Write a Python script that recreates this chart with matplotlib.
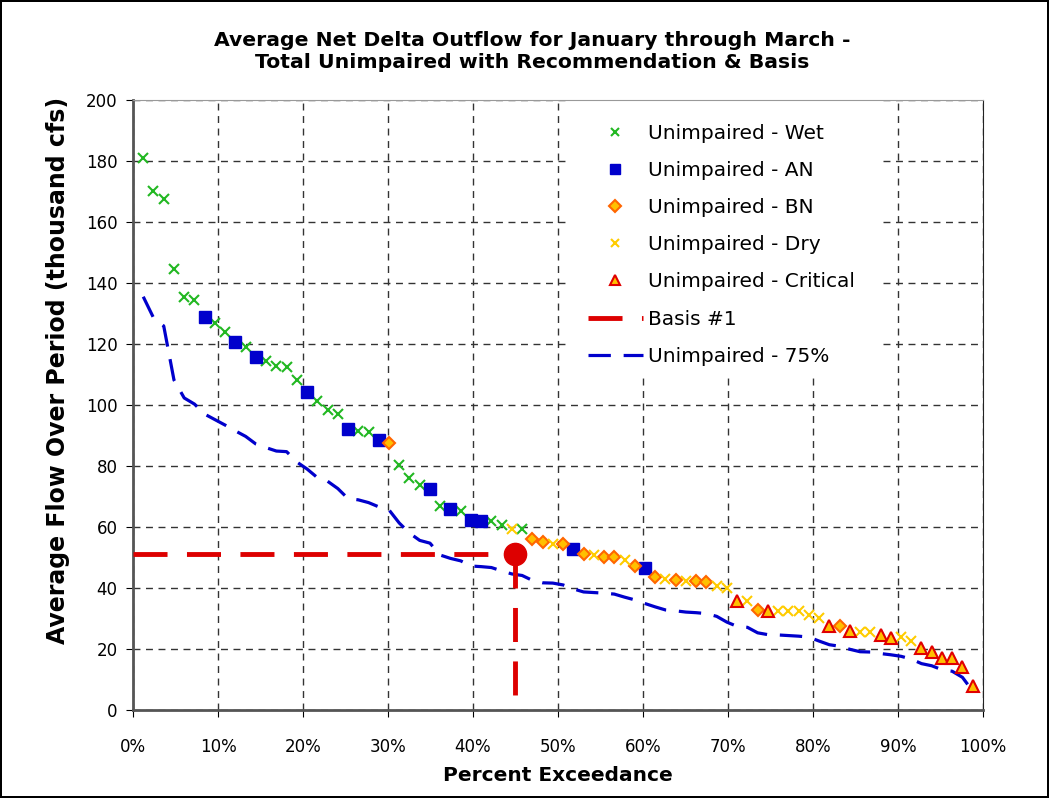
import numpy as np
import matplotlib.pyplot as plt
from matplotlib.patches import Rectangle

# year type of each ranked year (highest flow first)
year_type = ['W', 'W', 'W', 'W', 'W', 'W', 'AN', 'W', 'W', 'AN',
             'W', 'AN', 'W', 'W', 'W', 'W', 'AN', 'W', 'W', 'W',
             'AN', 'W', 'W', 'AN', 'BN', 'W', 'W', 'W', 'AN', 'W',
             'AN', 'W', 'AN', 'AN', 'W', 'W', 'D', 'W', 'BN', 'BN',
             'D', 'BN', 'AN', 'BN', 'D', 'BN', 'BN', 'D', 'BN', 'AN',
             'BN', 'D', 'BN', 'D', 'BN', 'BN', 'D', 'D', 'C', 'D',
             'BN', 'C', 'D', 'D', 'D', 'D', 'D', 'C', 'BN', 'C',
             'D', 'D', 'C', 'C', 'D', 'D', 'C', 'C', 'C', 'C',
             'C', 'C']

# unimpaired flow, thousand cfs
flow = [180.9, 170.2, 167.4, 144.6, 135.5, 134.4, 128.8, 126.8, 124.0, 120.8,
        118.9, 115.6, 114.5, 112.9, 112.5, 108.2, 104.2, 101.4, 98.4, 97.0,
        92.1, 91.5, 91.0, 88.5, 87.4, 80.2, 76.0, 73.7, 72.6, 66.9,
        66.0, 65.2, 62.3, 62.0, 61.8, 60.6, 59.4, 59.2, 56.1, 55.1,
        54.5, 54.5, 52.8, 51.0, 50.8, 50.2, 50.1, 49.1, 47.2, 46.6,
        43.7, 43.1, 42.6, 42.4, 42.3, 42.1, 40.8, 39.9, 35.8, 35.6,
        32.8, 32.6, 32.6, 32.6, 32.6, 31.2, 30.2, 27.6, 27.6, 26.0,
        25.5, 25.5, 24.6, 23.6, 23.8, 22.5, 20.3, 19.1, 17.2, 16.9,
        14.2, 7.9]

# 75% of unimpaired
flow75 = [135.5, 128.6, 125.9, 108.2, 102.3, 100.3, 97.0, 95.2, 93.4, 91.5,
          89.7, 87.2, 86.0, 84.9, 84.7, 81.3, 79.0, 76.2, 75.0, 72.6,
          69.3, 68.9, 68.0, 66.6, 65.6, 61.3, 58.0, 55.6, 54.7, 50.8,
          49.7, 48.9, 47.2, 47.0, 46.7, 45.6, 44.6, 44.1, 42.5, 41.7,
          41.6, 41.0, 39.7, 38.7, 38.5, 38.3, 38.0, 37.0, 36.1, 34.9,
          33.8, 32.8, 32.5, 32.1, 31.9, 31.6, 30.7, 28.8, 27.4, 27.1,
          25.3, 24.7, 24.6, 24.4, 24.2, 23.9, 22.6, 21.4, 20.9, 19.9,
          19.1, 19.0, 18.5, 18.1, 17.6, 16.7, 15.2, 14.5, 13.2, 12.7,
          10.7, 6.2]

basis_x = [0, 45]
basis_y = [51, 51]
basis_vx = [45, 45]
basis_vy = [51, 4]

n = len(flow)
exceed = np.arange(1, n + 1) / (n + 1) * 100
flow = np.array(flow)
year_type = np.array(year_type)

fig = plt.figure(figsize=(10.49, 7.98), dpi=100)
fig.patch.set_edgecolor('black')
fig.patch.set_linewidth(1.5)
ax = fig.add_axes([0.1268, 0.1103, 0.8102, 0.7644])

styles = {
    'W':  dict(marker='x', color='#22B822', ms=7, mew=1.5, ls='none', label='Unimpaired - Wet'),
    'AN': dict(marker='s', color='#0000CC', mec='#0000CC', ms=8, ls='none', label='Unimpaired - AN'),
    'BN': dict(marker='D', color='#FFC000', mec='#FF6600', mew=1.5, ms=6.5, ls='none', label='Unimpaired - BN'),
    'D':  dict(marker='x', color='#FFCC00', ms=7, mew=1.5, ls='none', label='Unimpaired - Dry'),
    'C':  dict(marker='^', color='#FFC000', mec='#E00000', mew=1.5, ms=8, ls='none', label='Unimpaired - Critical'),
}
for t in ['W', 'AN', 'BN', 'D', 'C']:
    m = year_type == t
    ax.plot(exceed[m], flow[m], zorder=4, **styles[t])

ax.plot(basis_x, basis_y, color='#DD0000', lw=3.5, dashes=(7, 4), label='Basis #1', zorder=5)
ax.plot(basis_vx, basis_vy, color='#DD0000', lw=3.5, dashes=(7, 4), zorder=5)
ax.plot([45], [51], 'o', color='#DD0000', ms=16, zorder=6)
ax.plot(exceed, flow75, color='#0000CC', lw=2.3, dashes=(7, 4), label='Unimpaired - 75%', zorder=3)

ax.set_xlim(0, 100)
ax.set_ylim(0, 200)
ax.set_xticks(np.arange(0, 101, 10))
ax.set_xticklabels([f'{v}%' for v in range(0, 101, 10)])
ax.set_yticks(np.arange(0, 201, 20))
ax.tick_params(axis='x', labelsize=12, pad=15, direction='out', length=5)
ax.tick_params(axis='y', labelsize=12, pad=6, direction='out', length=5)
ax.grid(True, color='#333333', lw=1, dashes=(5, 4))
ax.set_axisbelow(True)
for s in ['left', 'bottom']:
    ax.spines[s].set_color('#555555')
    ax.spines[s].set_linewidth(2)
ax.spines['right'].set_color('#222222')
ax.spines['top'].set_color('#999999')

# white box behind the legend hides the grid there
ax.add_patch(Rectangle((0.5118, 0.549), 0.3647, 0.451, transform=ax.transAxes,
                       facecolor='white', edgecolor='none', zorder=2))

leg = ax.legend(loc='upper left', bbox_to_anchor=(0.5353, 0.9607), fontsize=14.5,
                frameon=False, handlelength=2.73, labelspacing=0.9,
                borderpad=0, borderaxespad=0, handletextpad=0.25,
                markerscale=0.9)
leg.set_zorder(10)

fig.text(0.507, 1 - 40 / 798, 'Average Net Delta Outflow for January through March -',
         ha='center', va='center', fontsize=14.7, fontweight='bold')
fig.text(0.507, 1 - 62 / 798, 'Total Unimpaired with Recommendation & Basis',
         ha='center', va='center', fontsize=14.7, fontweight='bold')
fig.text(0.055, 0.536, 'Average Flow Over Period (thousand cfs)', rotation=90,
         ha='center', va='center', fontsize=17, fontweight='bold')
fig.text(0.532, 0.0276, 'Percent Exceedance', ha='center', va='center',
         fontsize=14.5, fontweight='bold')

fig.savefig('out.png', dpi=100)
